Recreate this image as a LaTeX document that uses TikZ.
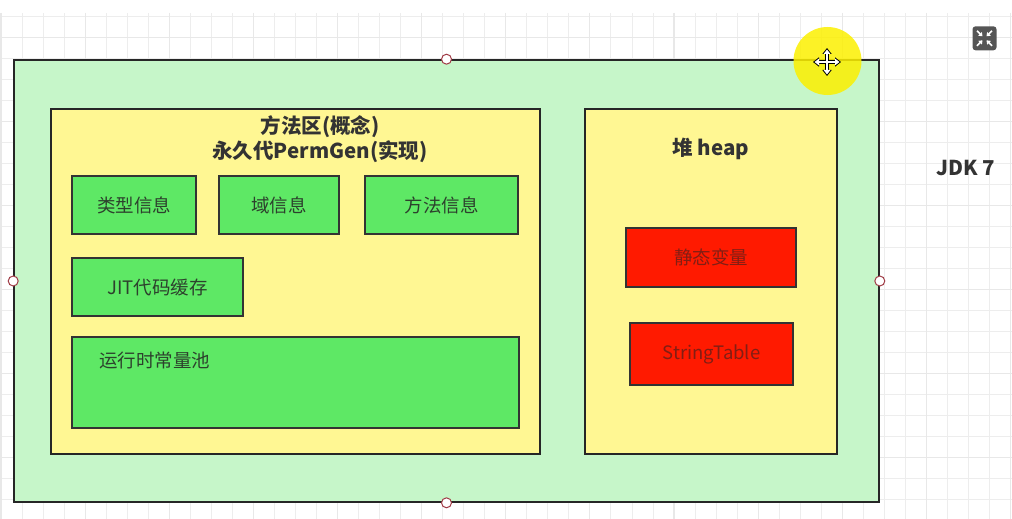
\documentclass[tikz,border=0pt]{standalone}
\usepackage{fontspec}
\setmainfont{Noto Sans CJK SC}
\usetikzlibrary{positioning, arrows.meta, calc}

\definecolor{jvmgreen}{RGB}{198,246,201}
\definecolor{areayellow}{RGB}{255,247,147}
\definecolor{infogreen}{RGB}{94,232,101}
\definecolor{heapred}{RGB}{255,26,0}
\definecolor{redtext}{RGB}{130,30,20}
\definecolor{greentext}{RGB}{45,65,45}
\definecolor{titlegray}{RGB}{51,51,51}
\definecolor{handle}{RGB}{160,60,70}
\definecolor{cursoryellow}{RGB}{252,240,0}
\definecolor{icongray}{RGB}{85,85,85}

\begin{document}
\begin{tikzpicture}[
    x=1pt, y=-1pt,
    >=Stealth,
    font=\fontsize{18.5}{22}\selectfont,
    gridline/.style={draw=black!7, line width=0.8pt},
    gridmajor/.style={draw=black!9, line width=1.1pt},
    region/.style={
        draw=black!85, line width=1.6pt, inner sep=0pt,
    },
    infobox/.style={
        draw=black!80, line width=1.5pt, fill=infogreen,
        inner sep=0pt, text=greentext,
    },
    heapbox/.style={
        draw=black!80, line width=1.5pt, fill=heapred,
        inner sep=0pt, text=redtext,
    },
    title/.style={
        align=center, text=titlegray,
        font=\fontsize{20.5}{25}\selectfont\bfseries,
    },
    grip/.style={
        circle, draw=handle, fill=white, line width=1pt,
        minimum size=10pt, inner sep=0pt,
    },
]

\useasboundingbox (0,0) rectangle (1012,519);

% editor grid
\foreach \i in {0,...,48}
    \draw[gridline] ({1+21.03*\i},13) -- ({1+21.03*\i},519);
\foreach \j in {0,...,24}
    \draw[gridline] (0,{16.7+21*\j}) -- (1012,{16.7+21*\j});
\foreach \i in {0,...,12}
    \draw[gridmajor] ({1+84.12*\i},13) -- ({1+84.12*\i},519);
\foreach \j in {0,...,5}
    \draw[gridmajor] (0,{37.7+84*\j}) -- (1012,{37.7+84*\j});

% regions
\node[region, fill=jvmgreen, minimum width=865pt, minimum height=442pt] (jvm) at (446.5,281) {};
\node[region, fill=areayellow, minimum width=489pt, minimum height=345pt] (method) at (295.5,281.5) {};
\node[region, fill=areayellow, minimum width=252pt, minimum height=345pt] (heap) at (711,281.5) {};

\node[title] (methodtitle) at (320,139.5) {方法区(概念)\\永久代PermGen(实现)};
\node[title] (heaptitle) at (711,149) {堆 heap};
\node[title] (jdk) at (966,168) {JDK 7};

% method area contents
\node[infobox, minimum width=124pt, minimum height=58pt] (typeinfo) at (134,205) {类型信息};
\node[infobox, minimum width=120pt, minimum height=58pt] (fieldinfo) at (279,205) {域信息};
\node[infobox, minimum width=153pt, minimum height=58pt] (methodinfo) at (441.5,205) {方法信息};
\node[infobox, minimum width=171pt, minimum height=58pt] (jitcache) at (157.5,287) {JIT代码缓存};
\node[infobox, minimum width=447pt, minimum height=91pt] (pool) at (295.5,382.5) {};
\node[text=greentext, anchor=west, inner sep=0pt] (pooltext) at (99,360) {运行时常量池};

% heap contents
\node[heapbox, minimum width=170pt, minimum height=59pt] (statics) at (711,257.5) {静态变量};
\node[heapbox, minimum width=163pt, minimum height=62pt] (strtable) at (711.5,354) {StringTable};

% selection handles
\node[grip] (gtop) at (jvm.north) {};
\node[grip] (gbottom) at (jvm.south) {};
\node[grip] (gleft) at (jvm.west) {};
\node[grip] (gright) at (jvm.east) {};

% cursor highlight
\fill[cursoryellow, opacity=0.85] (827.5,61) circle (34);
\coordinate (mv) at (827,62);
\draw[black, line width=3.6pt, {Triangle[length=6pt,width=9pt]}-{Triangle[length=6pt,width=9pt]}] ($(mv)+(-14,0)$) -- ($(mv)+(14,0)$);
\draw[black, line width=3.6pt, {Triangle[length=6pt,width=9pt]}-{Triangle[length=6pt,width=9pt]}] ($(mv)+(0,-14)$) -- ($(mv)+(0,14)$);
\draw[white, line width=1.6pt, {Triangle[length=4.5pt,width=6.5pt]}-{Triangle[length=4.5pt,width=6.5pt]}] ($(mv)+(-12.5,0)$) -- ($(mv)+(12.5,0)$);
\draw[white, line width=1.6pt, {Triangle[length=4.5pt,width=6.5pt]}-{Triangle[length=4.5pt,width=6.5pt]}] ($(mv)+(0,-12.5)$) -- ($(mv)+(0,12.5)$);

% collapse icon
\node[fill=icongray, rounded corners=3pt, minimum size=24pt, inner sep=0pt] (collapse) at (984.5,38.3) {};
\foreach \dx/\dy in {-1/-1, 1/-1, -1/1, 1/1}
    \draw[white, line width=1.6pt, -{Triangle[length=3.5pt,width=5pt]}]
        ($(collapse.center)+(7.5*\dx,7.5*\dy)$) -- ($(collapse.center)+(2*\dx,2*\dy)$);

\end{tikzpicture}
\end{document}
